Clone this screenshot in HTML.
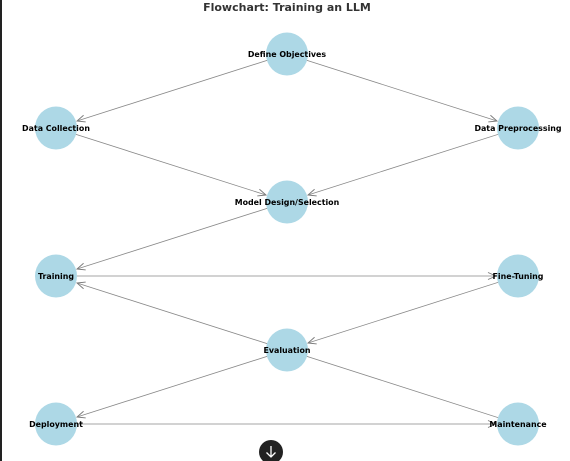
<!DOCTYPE html>
<html><head><meta charset="utf-8"><style>
body{margin:0;background:#fff;width:570px;height:461px;overflow:hidden;position:relative}
svg{position:absolute;left:0;top:0}
text{font-family:"DejaVu Sans","Liberation Sans",sans-serif;font-weight:bold}
</style></head><body>
<svg width="570" height="461" viewBox="0 0 570 461">
<defs>
<marker id="a" markerWidth="10" markerHeight="10" refX="9" refY="5" orient="auto" markerUnits="userSpaceOnUse">
<path d="M1,1.5 L9,5 L1,8.5" fill="none" stroke="#777" stroke-width="0.9"/>
</marker>
</defs>
<rect x="0" y="0" width="2" height="461" fill="#222"/>
<text x="287" y="11" font-size="11" fill="#333" text-anchor="middle">Flowchart: Training an LLM</text>
<g stroke="#888" stroke-width="0.8" fill="none">
<line x1="287" y1="54" x2="77" y2="121" marker-end="url(#a)"/>
<line x1="287" y1="54" x2="497" y2="121" marker-end="url(#a)"/>
<line x1="56" y1="128" x2="266" y2="195" marker-end="url(#a)"/>
<line x1="518" y1="128" x2="308" y2="195" marker-end="url(#a)"/>
<line x1="287" y1="202" x2="77" y2="269" marker-end="url(#a)"/>
<line x1="56" y1="276" x2="496" y2="276" marker-end="url(#a)"/>
<line x1="518" y1="276" x2="308" y2="343" marker-end="url(#a)"/>
<line x1="287" y1="350" x2="77" y2="283" marker-end="url(#a)"/>
<line x1="287" y1="350" x2="77" y2="417" marker-end="url(#a)"/>
<line x1="287" y1="350" x2="518" y2="424"/>
<line x1="56" y1="424" x2="496" y2="424" marker-end="url(#a)"/>
</g>
<g fill="#add8e6">
<ellipse cx="287" cy="54" rx="21" ry="21.5"/>
<ellipse cx="56" cy="128" rx="21" ry="21.5"/>
<ellipse cx="518" cy="128" rx="21" ry="21.5"/>
<ellipse cx="287" cy="202" rx="21" ry="21.5"/>
<ellipse cx="56" cy="276" rx="21" ry="21.5"/>
<ellipse cx="518" cy="276" rx="21" ry="21.5"/>
<ellipse cx="287" cy="350" rx="21" ry="21.5"/>
<ellipse cx="56" cy="424" rx="21" ry="21.5"/>
<ellipse cx="518" cy="424" rx="21" ry="21.5"/>
</g>
<g font-size="7.9" fill="#000" text-anchor="middle">
<text x="287" y="57">Define Objectives</text>
<text x="56" y="131">Data Collection</text>
<text x="518" y="131">Data Preprocessing</text>
<text x="287" y="205">Model Design/Selection</text>
<text x="56" y="279">Training</text>
<text x="518" y="279">Fine-Tuning</text>
<text x="287" y="353">Evaluation</text>
<text x="56" y="427">Deployment</text>
<text x="518" y="427">Maintenance</text>
</g>
<circle cx="271" cy="452" r="12" fill="#222"/>
<path d="M271,446 V457 M266.5,452.5 L271,457 L275.5,452.5" stroke="#fff" stroke-width="1.3" fill="none"/>
</svg>
</body></html>
